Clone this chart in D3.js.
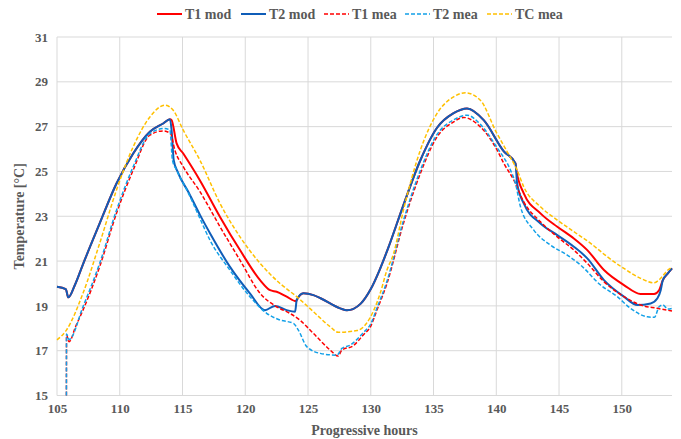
<!DOCTYPE html>
<html>
<head>
<meta charset="utf-8">
<script src="https://d3js.org/d3.v7.min.js"></script>
<style>
body { margin: 0; background: #fff; }
text { font-family: "Liberation Serif", "Times New Roman", serif; font-weight: bold; fill: #595959; }
</style>
</head>
<body>
<div id="chart"></div>
<script>
// hours / temperature pairs
var t1Mod = [[105,19.85],[105.7,19.75],[105.9,19.38],[106.4,19.9],[107.1,20.9],[108.4,22.68],[109.74,24.46],[111.07,25.8],[112.4,26.77],[113.46,27.14],[114.0,27.33],
    [114.13,27.29],[114.53,26.25],[115.06,25.8],[116.39,24.6],[117.99,22.97],[119.58,21.49],[121.18,20.15],[121.98,19.7],[122.5,19.63],[123.3,19.41],[124.05,19.21],
    [124.1,19.26],[124.63,19.56],[125.43,19.48],[126.0,19.34],[127.56,18.89],[128.1,18.8],[129.2,19.1],[130.0,19.75],[130.7,20.6],[131.4,21.6],[132.6,23.5],[133.95,25.5],
    [135.28,26.95],[136.6,27.6],[137.67,27.81],[139.0,27.29],[140.6,25.9],[141.53,25.36],[141.6,25.06],[142.19,24.02],[143.52,23.13],[144.86,22.53],[146.18,22.01],
    [147.25,21.49],[148.58,20.6],[150.17,19.93],[151.5,19.53],[152.57,19.53],[152.97,19.7],[153.27,20.15],[153.67,20.45],[154,20.67]];
var t2Mod = [[105,19.85],[105.7,19.75],[105.9,19.38],[106.4,19.9],[107.1,20.9],[108.4,22.68],[109.74,24.46],[111.07,25.8],[112.4,26.77],[113.46,27.14],[114.0,27.33],
    [114.13,26.84],[114.3,25.5],[114.6,25.0],[115.5,24.05],[116.4,23.05],[117.2,22.23],[118.77,20.75],[120.37,19.56],[121.57,18.81],[122.37,19.0],[123.3,18.81],[123.97,18.74],
    [124.1,19.26],[124.63,19.56],[125.43,19.48],[126.0,19.34],[127.56,18.89],[128.1,18.8],[129.2,19.1],[130.0,19.75],[130.7,20.6],[131.4,21.6],[132.6,23.5],[133.95,25.5],
    [135.28,26.95],[136.6,27.6],[137.67,27.81],[139.0,27.29],[140.6,25.9],[141.53,25.36],[141.66,24.46],[142.19,23.57],[143.52,22.68],[144.86,22.16],[146.18,21.64],
    [147.25,21.12],[148.58,20.15],[150.17,19.41],[151.24,19.04],[152.3,19.11],[152.84,19.34],[153.1,19.7],[153.27,20.15],[153.67,20.45],[154,20.67]];
var t1Mea = [[105.75,15],[105.76,17.7],[105.96,17.4],[106.5,18.1],[107.07,18.81],[108.4,20.75],[109.74,23.13],[111.07,25.06],[112.4,26.62],[113.46,26.81],[114.05,26.69],
    [114.39,25.95],[115.06,25.21],[116.39,24.1],[117.99,22.53],[119.58,21.04],[121.18,19.56],[122.5,18.96],[123.54,18.67],[124.34,18.37],[125.43,17.77],[126.76,17.03],
    [127.4,16.76],[127.7,17.03],[128.6,17.22],[129.4,17.7],[130.0,18.1],[130.49,18.81],[131.29,20.0],[132.6,22.68],[133.95,24.91],[135.28,26.54],[136.6,27.21],[137.4,27.41],
    [138.73,26.99],[140.07,25.95],[140.6,25.36],[141.4,24.61],[142.19,23.64],[143.52,22.75],[144.86,22.08],[146.18,21.49],[147.25,20.9],[148.58,20.08],[150.17,19.41],
    [151.5,19.04],[152.84,18.89],[154,18.77]];
var t2Mea = [[105.75,15],[105.76,17.75],[105.96,17.5],[107.07,18.96],[108.4,20.9],[109.74,23.27],[111.07,25.21],[112.4,26.69],[113.6,26.92],[114.0,26.84],[114.2,25.5],
    [114.53,25.06],[115.5,24.0],[116.39,22.9],[117.18,21.94],[118.77,20.6],[120.37,19.41],[121.7,18.67],[122.77,18.37],[123.84,18.22],[124.23,17.92],[124.9,17.18],
    [125.97,16.88],[127.3,16.8],[127.7,17.1],[128.36,17.25],[129.4,17.8],[130.0,18.2],[130.49,18.9],[131.29,20.1],[132.6,22.8],[133.95,25.05],[135.28,26.65],[136.6,27.3],
    [137.67,27.51],[138.73,27.1],[140.07,26.05],[141.13,25.06],[141.53,24.46],[141.93,23.42],[142.99,22.38],[144.32,21.71],[145.65,21.27],[146.72,20.82],[148.31,19.93],
    [149.64,19.41],[150.7,18.89],[152.04,18.51],[152.6,18.49],[152.97,18.96],[153.27,19.04],[153.67,18.86],[154,18.89]];
var tcMea = [[105,17.48],[105.75,17.92],[107.07,19.56],[108.4,21.79],[109.74,24.17],[111.07,26.1],[112.4,27.43],[113.6,27.96],[114.26,27.73],[115.06,26.84],[116.39,25.5],
    [117.99,23.57],[119.58,22.08],[121.18,20.9],[122.77,20.0],[124.1,19.41],[125.43,18.74],[126.76,18.07],[127.4,17.82],[128.9,17.9],[129.7,18.25],[130.75,19.56],
    [131.29,20.6],[131.8,21.3],[132.6,23.27],[133.95,25.95],[135.28,27.59],[136.6,28.33],[137.54,28.51],[138.73,28.18],[140.0,26.75],[141.0,25.75],[141.66,25.06],
    [142.19,24.31],[143.52,23.42],[144.86,22.83],[146.18,22.31],[147.52,21.79],[148.85,21.19],[150.17,20.67],[151.5,20.23],[152.57,20.03],[153.1,20.23],[153.67,20.6],[154,20.72]];

var xTicks = [105, 110, 115, 120, 125, 130, 135, 140, 145, 150];
var yTicks = [15, 17, 19, 21, 23, 25, 27, 29, 31];

var svg = d3.select('#chart')
    .append('svg')
    .attr('width', 681)
    .attr('height', 439);

var margin = { top: 37, right: 9, bottom: 43.5, left: 57 };
var width = +svg.attr('width') - margin.left - margin.right;
var height = +svg.attr('height') - margin.top - margin.bottom;
var g = svg.append('g').attr('transform', 'translate(' + margin.left + ',' + margin.top + ')');

var x = d3.scaleLinear().domain([105, 154]).range([0, width]);
var y = d3.scaleLinear().domain([15, 31]).range([height, 0]);

// grid
g.append('g').selectAll('line.h')
    .data(yTicks)
    .enter().append('line')
    .attr('x1', 0).attr('x2', width)
    .attr('y1', function (d) { return y(d); })
    .attr('y2', function (d) { return y(d); })
    .attr('stroke', '#d9d9d9').attr('stroke-width', 1);
g.append('g').selectAll('line.v')
    .data(xTicks)
    .enter().append('line')
    .attr('y1', 0).attr('y2', height)
    .attr('x1', function (d) { return x(d); })
    .attr('x2', function (d) { return x(d); })
    .attr('stroke', '#d9d9d9').attr('stroke-width', 1);

var xAxis = g.append('g')
    .attr('transform', 'translate(0,' + height + ')')
    .call(d3.axisBottom(x).tickValues(xTicks).tickSize(0).tickPadding(8));
xAxis.select('.domain').remove();
xAxis.selectAll('text').attr('font-size', 13).attr('dy', '0.71em');

var yAxis = g.append('g')
    .call(d3.axisLeft(y).tickValues(yTicks).tickSize(0).tickPadding(9));
yAxis.select('.domain').remove();
yAxis.selectAll('text').attr('font-size', 13);

svg.append('text')
    .attr('x', margin.left + width / 2)
    .attr('y', 435)
    .attr('text-anchor', 'middle')
    .attr('font-size', 14)
    .text('Progressive hours');

svg.append('text')
    .attr('transform', 'translate(24,' + (margin.top + height / 2) + ') rotate(-90)')
    .attr('text-anchor', 'middle')
    .attr('font-size', 14)
    .text('Temperature [°C]');

var info = [
    { name: 'T1 mod', data: t1Mod, color: '#ff0000', dash: null, width: 2, lx: 157 },
    { name: 'T2 mod', data: t2Mod, color: '#0f5db8', dash: null, width: 2, lx: 241 },
    { name: 'T1 mea', data: t1Mea, color: '#ff0000', dash: '4,2', width: 1.5, lx: 324 },
    { name: 'T2 mea', data: t2Mea, color: '#12a0e8', dash: '4,2', width: 1.5, lx: 405 },
    { name: 'TC mea', data: tcMea, color: '#ffc000', dash: '4,2', width: 1.5, lx: 487 }
];

var line = d3.line()
    .x(function (d) { return x(d[0]); })
    .y(function (d) { return y(d[1]); })
    .curve(d3.curveMonotoneX);

for (var i = 0; i < info.length; i++) {
    g.append('path')
        .datum(info[i].data)
        .attr('fill', 'none')
        .attr('stroke', info[i].color)
        .attr('stroke-width', info[i].width)
        .attr('stroke-dasharray', info[i].dash)
        .attr('stroke-linejoin', 'round')
        .attr('d', line);

    // legend
    svg.append('line')
        .attr('x1', info[i].lx).attr('x2', info[i].lx + 25)
        .attr('y1', 14).attr('y2', 14)
        .attr('stroke', info[i].color)
        .attr('stroke-width', info[i].width)
        .attr('stroke-dasharray', info[i].dash);
    svg.append('text')
        .attr('x', info[i].lx + 28)
        .attr('y', 14)
        .attr('dy', '0.35em')
        .attr('font-size', 14)
        .text(info[i].name);
}
</script>
</body>
</html>
